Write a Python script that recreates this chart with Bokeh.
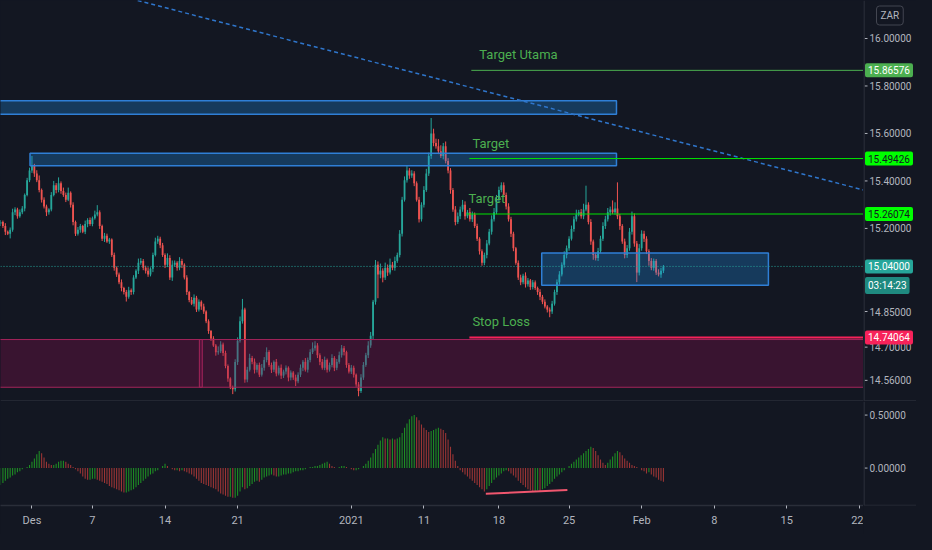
import numpy as np
from bokeh.plotting import figure
from bokeh.models import Range1d, FixedTicker, Span, Label, ColumnDataSource
from bokeh.layouts import gridplot
from bokeh.embed import file_html
from bokeh.resources import INLINE
from bokeh.core.properties import value

# ---------------- data (4h USD/ZAR candles) ----------------
first_open = 15.220
closes = [
    15.227, 15.210, 15.186, 15.178, 15.194, 15.268, 15.280, 15.251, 15.268, 15.284,
    15.341, 15.403, 15.444, 15.464, 15.431, 15.403, 15.362, 15.321, 15.292, 15.268,
    15.280, 15.341, 15.382, 15.362, 15.390, 15.358, 15.341, 15.321, 15.350, 15.300,
    15.227, 15.178, 15.194, 15.210, 15.186, 15.219, 15.235, 15.219, 15.243, 15.259,
    15.268, 15.210, 15.157, 15.169, 15.145, 15.153, 15.088, 15.034, 15.006, 14.973,
    14.949, 14.932, 14.912, 14.940, 14.932, 14.993, 15.022, 15.055, 15.063, 15.034,
    15.022, 15.006, 15.030, 15.088, 15.145, 15.157, 15.129, 15.088, 15.047, 15.075,
    14.993, 15.047, 15.055, 15.034, 15.063, 15.047, 14.993, 14.932, 14.899, 14.883,
    14.908, 14.858, 14.891, 14.871, 14.850, 14.809, 14.768, 14.736, 14.707, 14.678,
    14.683, 14.711, 14.675, 14.621, 14.568, 14.531, 14.523, 14.637, 14.727, 14.809,
    14.858, 14.564, 14.605, 14.654, 14.638, 14.605, 14.625, 14.584, 14.613, 14.646,
    14.679, 14.625, 14.605, 14.638, 14.589, 14.613, 14.580, 14.597, 14.613, 14.572,
    14.593, 14.572, 14.556, 14.584, 14.613, 14.638, 14.605, 14.646, 14.679, 14.695,
    14.707, 14.666, 14.638, 14.613, 14.646, 14.605, 14.625, 14.654, 14.613, 14.638,
    14.666, 14.695, 14.679, 14.625, 14.597, 14.613, 14.584, 14.543, 14.515, 14.572,
    14.625, 14.666, 14.707, 14.748, 14.891, 15.047, 15.006, 15.022, 14.993, 15.034,
    15.014, 15.047, 15.034, 15.063, 15.088, 15.178, 15.321, 15.403, 15.444, 15.423,
    15.431, 15.390, 15.321, 15.239, 15.300, 15.362, 15.431, 15.505, 15.600, 15.560,
    15.546, 15.525, 15.505, 15.546, 15.484, 15.444, 15.362, 15.280, 15.227, 15.251,
    15.280, 15.300, 15.251, 15.268, 15.239, 15.259, 15.210, 15.157, 15.104, 15.055,
    15.088, 15.137, 15.186, 15.239, 15.268, 15.321, 15.362, 15.382, 15.341, 15.292,
    15.239, 15.178, 15.116, 15.055, 14.993, 14.973, 15.001, 14.965, 14.981, 14.953,
    14.973, 14.949, 14.932, 14.912, 14.891, 14.871, 14.858, 14.850, 14.883, 14.932,
    14.973, 15.006, 15.047, 15.088, 15.116, 15.157, 15.198, 15.239, 15.259, 15.268,
    15.251, 15.280, 15.300, 15.227, 15.145, 15.088, 15.075, 15.104, 15.157, 15.210,
    15.239, 15.268, 15.280, 15.268, 15.284, 15.251, 15.210, 15.145, 15.088, 15.116,
    15.186, 15.251, 15.137, 15.014, 15.116, 15.178, 15.157, 15.104, 15.063, 15.034,
    15.063, 15.014, 15.006, 15.022, 15.040,
]
# upper / lower wick lengths in thousandths of a rand
wick_up = [
    8, 6, 12, 5, 10, 15, 9, 7, 12, 10,
    6, 10, 12, 41, 8, 14, 20, 6, 10, 8,
    5, 12, 18, 9, 25, 8, 14, 10, 22, 6,
    10, 6, 12, 9, 5, 14, 8, 11, 7, 16,
    30, 8, 6, 12, 9, 7, 5, 10, 6, 8,
    12, 5, 9, 14, 7, 10, 6, 18, 12, 8,
    9, 14, 6, 10, 16, 12, 8, 10, 7, 20,
    12, 18, 10, 7, 16, 9, 6, 10, 5, 12,
    14, 8, 10, 6, 12, 5, 8, 4, 10, 6,
    20, 14, 8, 10, 6, 5, 7, 12, 14, 20,
    45, 8, 12, 18, 9, 14, 7, 10, 16, 12,
    20, 8, 10, 6, 12, 9, 14, 8, 10, 6,
    9, 6, 12, 10, 14, 8, 16, 10, 12, 25,
    18, 10, 8, 12, 14, 6, 10, 16, 8, 12,
    15, 14, 10, 6, 8, 12, 9, 5, 10, 14,
    12, 10, 18, 16, 8, 20, 14, 30, 10, 22,
    14, 26, 12, 18, 10, 15, 12, 16, 20, 10,
    14, 10, 8, 12, 10, 16, 20, 14, 65, 20,
    18, 30, 25, 14, 20, 12, 10, 8, 14, 16,
    12, 20, 14, 10, 18, 12, 8, 10, 6, 8,
    10, 14, 12, 16, 18, 20, 14, 12, 12, 10,
    14, 10, 8, 6, 10, 12, 8, 14, 10, 6,
    10, 8, 6, 12, 8, 10, 6, 9, 12, 10,
    12, 14, 10, 16, 12, 10, 14, 12, 20, 10,
    14, 24, 80, 10, 12, 8, 10, 14, 12, 16,
    14, 18, 12, 38, 26, 110, 10, 8, 12, 14,
    16, 20, 12, 10, 18, 14, 12, 10, 8, 12,
    10, 8, 14, 12, 6,
]
wick_dn = [
    10, 8, 14, 6, 20, 8, 12, 10, 6, 8,
    12, 6, 8, 10, 14, 8, 10, 12, 8, 16,
    10, 8, 6, 14, 10, 12, 8, 10, 6, 12,
    14, 10, 8, 12, 6, 10, 14, 8, 10, 6,
    8, 12, 10, 14, 6, 10, 8, 12, 10, 8,
    14, 10, 20, 8, 12, 10, 6, 14, 8, 10,
    12, 10, 8, 14, 6, 10, 12, 8, 14, 10,
    10, 14, 8, 12, 10, 14, 8, 12, 10, 6,
    12, 10, 8, 14, 10, 8, 12, 10, 6, 14,
    10, 8, 12, 10, 14, 8, 21, 10, 12, 8,
    10, 14, 12, 8, 10, 16, 12, 10, 8, 12,
    10, 8, 14, 10, 12, 8, 14, 10, 12, 16,
    12, 10, 20, 8, 10, 14, 8, 12, 10, 8,
    10, 12, 14, 8, 10, 12, 8, 10, 14, 10,
    8, 10, 14, 12, 8, 10, 12, 10, 22, 8,
    10, 8, 12, 10, 14, 12, 100, 16, 20, 10,
    14, 8, 10, 12, 8, 10, 12, 8, 10, 14,
    10, 12, 8, 14, 10, 12, 8, 10, 12, 14,
    10, 12, 8, 14, 10, 12, 16, 10, 14, 8,
    12, 10, 14, 8, 10, 12, 8, 10, 14, 12,
    10, 14, 8, 12, 10, 8, 12, 10, 8, 12,
    10, 14, 12, 8, 10, 12, 8, 14, 10, 12,
    10, 8, 12, 14, 10, 8, 12, 24, 10, 8,
    12, 10, 8, 12, 14, 10, 8, 12, 10, 8,
    10, 12, 8, 10, 14, 20, 10, 12, 8, 10,
    12, 10, 14, 8, 10, 12, 16, 10, 14, 12,
    10, 12, 14, 40, 12, 10, 14, 12, 20, 10,
    12, 10, 8, 14, 10,
]
# oscillator histogram
osc = [
    -0.16, -0.14, -0.12, -0.10, -0.09, -0.07, -0.06, -0.04, -0.03, -0.01,
    0.00, 0.01, 0.03, 0.06, 0.09, 0.13, 0.16, 0.14, 0.10, 0.06,
    0.04, 0.03, 0.03, 0.04, 0.06, 0.07, 0.07, 0.06, 0.04, 0.03,
    0.01, -0.01, -0.03, -0.05, -0.08, -0.10, -0.11, -0.11, -0.10, -0.10,
    -0.11, -0.12, -0.13, -0.14, -0.15, -0.17, -0.18, -0.19, -0.20, -0.21,
    -0.22, -0.23, -0.23, -0.22, -0.21, -0.20, -0.18, -0.16, -0.14, -0.12,
    -0.10, -0.08, -0.06, -0.05, -0.03, -0.02, 0.00, 0.02, 0.04, 0.02,
    0.00, -0.01, -0.02, -0.02, -0.03, -0.02, -0.03, -0.04, -0.05, -0.06,
    -0.08, -0.10, -0.12, -0.14, -0.15, -0.16, -0.17, -0.18, -0.19, -0.20,
    -0.22, -0.24, -0.25, -0.26, -0.27, -0.27, -0.28, -0.28, -0.26, -0.22,
    -0.18, -0.20, -0.19, -0.17, -0.15, -0.13, -0.12, -0.13, -0.11, -0.09,
    -0.08, -0.07, -0.06, -0.07, -0.08, -0.08, -0.07, -0.06, -0.06, -0.05,
    -0.05, -0.04, -0.03, -0.03, -0.02, -0.02, -0.01, 0.00, 0.01, 0.01,
    0.02, 0.02, 0.03, 0.04, 0.05, 0.06, 0.04, 0.02, 0.01, 0.00,
    0.01, 0.02, 0.02, 0.01, 0.00, -0.01, -0.02, -0.02, -0.01, 0.00,
    0.02, 0.04, 0.07, 0.10, 0.14, 0.18, 0.22, 0.26, 0.29, 0.28,
    0.28, 0.27, 0.28, 0.27, 0.28, 0.29, 0.33, 0.38, 0.42, 0.46,
    0.49, 0.50, 0.48, 0.45, 0.41, 0.38, 0.36, 0.34, 0.35, 0.36,
    0.37, 0.38, 0.37, 0.36, 0.33, 0.27, 0.20, 0.13, 0.07, 0.02,
    -0.02, -0.04, -0.06, -0.08, -0.10, -0.12, -0.14, -0.16, -0.18, -0.20,
    -0.22, -0.20, -0.17, -0.14, -0.11, -0.09, -0.07, -0.05, -0.03, -0.02,
    -0.03, -0.05, -0.07, -0.09, -0.12, -0.14, -0.16, -0.18, -0.20, -0.21,
    -0.22, -0.22, -0.21, -0.22, -0.20, -0.19, -0.17, -0.15, -0.13, -0.10,
    -0.08, -0.06, -0.04, -0.02, 0.00, 0.02, 0.04, 0.06, 0.08, 0.10,
    0.12, 0.14, 0.16, 0.18, 0.20, 0.19, 0.16, 0.12, 0.08, 0.05,
    0.03, 0.05, 0.08, 0.11, 0.14, 0.16, 0.15, 0.12, 0.09, 0.07,
    0.05, 0.03, 0.02, 0.01, 0.00, -0.02, -0.03, -0.05, -0.04, -0.06,
    -0.08, -0.09, -0.11, -0.12, -0.13,
]

# time axis (bar index of each date)
date_pos = [13, 38, 68, 98, 145, 175, 206, 235, 265, 295, 325, 355]
date_labels = ["Des", "7", "14", "21", "2021", "11", "18", "25", "Feb", "8", "15", "22"]
price_ticks = [16.0, 15.8, 15.6, 15.4, 15.2, 14.85, 14.7, 14.56]
osc_ticks = [0.5, 0.0]

# drawings
level_names = ["Target Utama", "Target", "Target", "Stop Loss"]
level_values = [15.86576, 15.49426, 15.26074, 14.74064]
level_start = [194.6, 193.8, 192.6, 193.8]
last_price = 15.04
countdown = "03:14:23"
currency = "ZAR"
blue_left = [-1.0, 12.2, 223.7]
blue_right = [254.6, 254.6, 317.4]
blue_top = [15.738, 15.517, 15.096]
blue_bottom = [15.681, 15.464, 14.961]
zone_left = [-1.0, 82.2]
zone_right = [400.0, 83.4]
zone_top = [14.732, 14.732]
zone_bottom = [14.531, 14.531]
trend_x = [56.7, 356.7]
trend_y = [16.160, 15.362]
div_x = [200.6, 234.3]
div_y = [-0.243, -0.206]

# ---------------- styling ----------------
BG = "#131722"
TXT = "#b2b5be"
SEP = "#2a2e39"
UP = "#26a69a"
DN = "#ef5350"
FONT = "Roboto"
SCALE_FS = "10px"
X_END = 356.7
MAIN_W, AXIS_W = 863, 53
H1, H2, BOTTOM = 401, 133, 29

n = len(closes)
idx = np.arange(n)
opens = [first_open] + closes[:-1]
highs = [max(o, c) + u / 1000 for o, c, u in zip(opens, closes, wick_up)]
lows = [min(o, c) - d / 1000 for o, c, d in zip(opens, closes, wick_dn)]
ccol = [UP if c >= o else DN for o, c in zip(opens, closes)]
src = ColumnDataSource(dict(x=idx, o=opens, c=closes, h=highs, l=lows,
                            top=[max(a, b) for a, b in zip(opens, closes)],
                            bot=[min(a, b) for a, b in zip(opens, closes)], col=ccol))

yr1 = Range1d(14.471, 16.160)
yr2 = Range1d(-0.353, 0.628)

p1 = figure(width=MAIN_W, height=H1, x_range=Range1d(0, X_END), y_range=yr1,
            output_backend="svg", toolbar_location=None, x_axis_location=None,
            y_axis_location=None, background_fill_color=BG, border_fill_color=BG,
            outline_line_color=None, min_border=0)
p1.grid.visible = False

p1.segment(x0="x", y0="l", x1="x", y1="h", color="col", line_width=1, source=src)
p1.vbar(x="x", width=0.75, top="top", bottom="bot", fill_color="col", line_color=None, source=src)

# zones
p1.quad(left=zone_left, right=zone_right, top=zone_top, bottom=zone_bottom,
        fill_color="#880e4f", fill_alpha=0.33, line_color="#a3245a", line_width=1)
p1.quad(left=blue_left, right=blue_right, top=blue_top, bottom=blue_bottom,
        fill_color="#2196f3", fill_alpha=0.28, line_color="#2f7fd6", line_width=1.5)

# trend line
p1.line(trend_x, trend_y, line_color="#2f76cc", line_width=1.5, line_dash="4 3")

# levels
level_colors = ["#4caf50", "#00e600", "#00e600", "#f7225a"]
level_widths = [1, 1, 1, 2]
p1.segment(x0=level_start, y0=level_values, x1=[X_END + 5] * 4, y1=level_values,
           line_color=level_colors, line_width=level_widths)
text_dx = [8, 3, 2, 3]
for name, v, s, dx in zip(level_names, level_values, level_start, text_dx):
    p1.add_layout(Label(x=s, y=v, x_offset=dx, y_offset=8, text=name, text_color="#4caf50",
                        text_font_size="13px", text_font=FONT, text_baseline="bottom"))

p1.add_layout(Span(location=last_price, dimension="width", line_color=UP,
                   line_dash="1 2", line_width=1))
p1.add_layout(Span(location=yr1.start + 0.0015, dimension="width", line_color=SEP, line_width=2))

# ---------------- price scale column ----------------
def scale_fig(yr, height, bottom):
    f = figure(width=AXIS_W, height=height, x_range=Range1d(0, AXIS_W), y_range=yr,
               output_backend="svg", toolbar_location=None, x_axis_location=None,
               y_axis_location=None, background_fill_color=BG, border_fill_color=BG,
               outline_line_color=None, min_border=0, min_border_bottom=bottom)
    f.grid.visible = False
    f.add_layout(Span(location=0.5, dimension="height", line_color=SEP, line_width=1.5))
    return f


def tick_text(f, ticks):
    f.segment(x0=[1] * len(ticks), x1=[4] * len(ticks), y0=ticks, y1=ticks, line_color=TXT)
    f.text(x=[6] * len(ticks), y=ticks, text=["%.5f" % t for t in ticks], text_color=TXT,
           text_font_size=SCALE_FS, text_font=value(FONT), text_baseline="middle")


a1 = scale_fig(yr1, H1, 0)
tick_text(a1, price_ticks)
a1.add_layout(Span(location=yr1.start + 0.0015, dimension="width", line_color=SEP, line_width=2))

tag_bg = ["#4caf50", "#00ff00", "#00ff00", "#f7225a"]
tag_fg = ["#ffffff", "#131722", "#131722", "#ffffff"]
for v, bg, fg in zip(level_values, tag_bg, tag_fg):
    a1.add_layout(Label(x=1.5, y=v, text="%.5f" % v, text_color=fg, text_font_size=SCALE_FS,
                        text_font=FONT, text_baseline="middle", background_fill_color=bg,
                        padding=3, border_radius=2))
a1.add_layout(Label(x=1.5, y=last_price, text="%.5f" % last_price, text_color="#ffffff",
                    text_font_size=SCALE_FS, text_font=FONT, text_baseline="middle",
                    background_fill_color=UP, padding=3, border_radius=2))
a1.add_layout(Label(x=1.5, y=last_price, y_offset=-19, text=countdown, text_color="#ffffff",
                    text_font_size=SCALE_FS, text_font=FONT, text_baseline="middle",
                    background_fill_color="#1f8a80", padding=3, border_radius=2))
a1.add_layout(Label(x=13, y=yr1.end, y_offset=-15, text=currency, text_color=TXT,
                    text_font_size="10px", text_font=FONT, text_baseline="middle",
                    background_fill_color=BG, border_line_color="#434651",
                    padding=4, border_radius=3))

# ---------------- oscillator pane ----------------
ocol = ["#1e8c24" if (i == 0 or osc[i] >= osc[i - 1]) else "#9b3535" for i in range(n)]
p2 = figure(width=MAIN_W, height=H2, x_range=p1.x_range, y_range=yr2,
            output_backend="svg", toolbar_location=None, y_axis_location=None,
            background_fill_color=BG, border_fill_color=BG, outline_line_color=None,
            min_border=0, min_border_bottom=BOTTOM)
p2.grid.visible = False
p2.vbar(x=idx, top=osc, bottom=0, width=0.45, fill_color=ocol, line_color=None)
p2.line(div_x, div_y, line_color="#f0566e", line_width=2)

xa = p2.xaxis[0]
xa.ticker = FixedTicker(ticks=date_pos)
xa.major_label_overrides = {pos: lab for pos, lab in zip(date_pos, date_labels)}
xa.axis_line_color = SEP
xa.axis_line_width = 1.5
xa.major_tick_line_color = TXT
xa.major_tick_out = 3
xa.major_tick_in = 0
xa.minor_tick_line_color = None
xa.major_label_text_color = TXT
xa.major_label_text_font_size = "11px"
xa.major_label_text_font = FONT
xa.major_label_standoff = 5

a2 = scale_fig(yr2, H2, BOTTOM)
tick_text(a2, osc_ticks)
a2.add_layout(Span(location=yr2.start, dimension="width", line_color=SEP, line_width=1.5))

grid = gridplot([[p1, a1], [p2, a2]], toolbar_location=None)
html = file_html(grid, INLINE)
html = html.replace("<head>", "<head><style>body{background:#131722;}</style>", 1)
open("out.html", "w").write(html)
